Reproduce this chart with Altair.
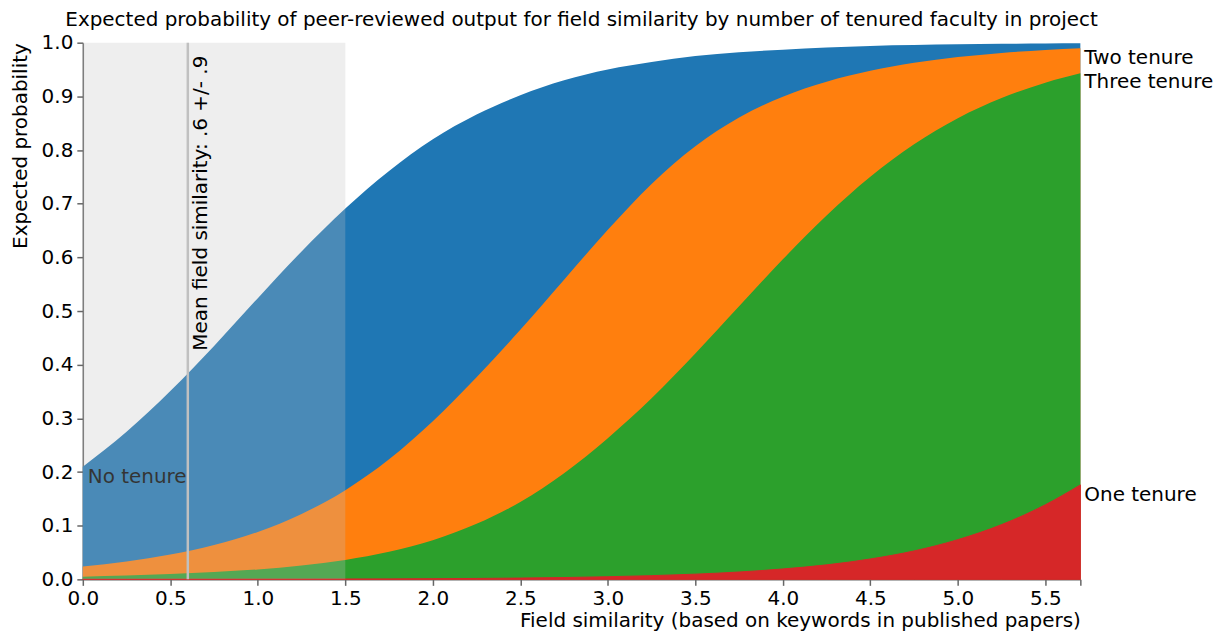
import altair as alt
import pandas as pd

# ---- data ----
x_vals = [0.0, 0.25, 0.5, 0.75, 1.0, 1.25, 1.5, 1.75, 2.0, 2.25, 2.5, 2.75,
          3.0, 3.25, 3.5, 3.75, 4.0, 4.25, 4.5, 4.75, 5.0, 5.25, 5.5, 5.7]
no_tenure = [0.210, 0.275, 0.351, 0.435, 0.524, 0.611, 0.691, 0.761, 0.820, 0.866, 0.902, 0.930,
             0.950, 0.964, 0.975, 0.982, 0.987, 0.991, 0.994, 0.9956, 0.9969, 0.9978, 0.9985, 0.9989]
two_tenure = [0.0240, 0.0332, 0.0461, 0.0638, 0.0884, 0.1219, 0.1662, 0.2236, 0.2946, 0.3764, 0.4651, 0.5585,
              0.6513, 0.7369, 0.8069, 0.8606, 0.8993, 0.9272, 0.9476, 0.9625, 0.9733, 0.9810, 0.9866, 0.9898]
three_tenure = [0.0050, 0.0071, 0.0099, 0.0136, 0.0185, 0.0260, 0.0363, 0.0514, 0.0731, 0.1034, 0.1443, 0.1978,
                0.2631, 0.3374, 0.4207, 0.5087, 0.5963, 0.6781, 0.7503, 0.8108, 0.8594, 0.8970, 0.9255, 0.9429]
one_tenure = [0.0001, 0.0001, 0.0002, 0.0002, 0.0003, 0.0004, 0.0006, 0.0008, 0.0012, 0.0017, 0.0024, 0.0034,
              0.0049, 0.0069, 0.0097, 0.0137, 0.0194, 0.027, 0.038, 0.053, 0.074, 0.102, 0.139, 0.176]

series_keys = ["none", "two", "three", "one"]
series_labels = ["No tenure", "Two tenure", "Three tenure", "One tenure"]
series_colors = ["#1f77b4", "#ff7f0e", "#2ca02c", "#d62728"]

mean_similarity = 0.6
sd_similarity = 0.9
x_ticks = [0.0, 0.5, 1.0, 1.5, 2.0, 2.5, 3.0, 3.5, 4.0, 4.5, 5.0, 5.5, 5.7]
y_ticks = [0.0, 0.1, 0.2, 0.3, 0.4, 0.5, 0.6, 0.7, 0.8, 0.9, 1.0]

title_text = ("Expected probability of peer-reviewed output for field similarity "
              "by number of tenured faculty in project")
x_title = "Field similarity (based on keywords in published papers)"
y_title = "Expected probability"
rule_label = "Mean field similarity: .6 +/- .9"

FONT = "DejaVu Sans"
FS = 20

df = pd.DataFrame({"x": x_vals, "none": no_tenure, "two": two_tenure,
                   "three": three_tenure, "one": one_tenure})

xscale = alt.Scale(domain=[x_vals[0], x_vals[-1]], nice=False, zero=False)
yscale = alt.Scale(domain=[0, 1], nice=False)

xaxis = alt.Axis(title=x_title, values=x_ticks,
                 labelExpr="datum.value > 5.6 ? '' : format(datum.value, '.1f')",
                 labelFlush=False, labelOverlap=False,
                 titleAnchor="end", titleY=47, titleBaseline="alphabetic",
                 tickSize=6, labelPadding=3, grid=False)
yaxis = alt.Axis(title=y_title, values=y_ticks, format=".1f",
                 labelFlush=False, labelOverlap=False,
                 titleAnchor="end", titleX=-72, titleY=0, titleAlign="right",
                 titleAngle=270, titleBaseline="top",
                 tickSize=6, labelPadding=4, grid=False)

base = alt.Chart(df)

areas = []
for key, col in zip(series_keys, series_colors):
    props = dict(color=col, opacity=1, interpolate="monotone")
    if key == "one":
        props.update(stroke=col, strokeWidth=1)
    areas.append(
        base.mark_area(**props).encode(
            x=alt.X("x:Q", scale=xscale, axis=xaxis),
            y=alt.Y(f"{key}:Q", scale=yscale, axis=yaxis),
        )
    )

start_df = pd.DataFrame({"x": [x_vals[0]], "y": [no_tenure[0]], "label": [series_labels[0]]})
start_label = alt.Chart(start_df).mark_text(
    align="left", baseline="top", dx=5, fontSize=FS, font=FONT, color="black"
).encode(
    x=alt.X("x:Q", scale=xscale, axis=xaxis),
    y=alt.Y("y:Q", scale=yscale, axis=yaxis),
    text="label:N",
)

band_df = pd.DataFrame({"lo": [max(0.0, mean_similarity - sd_similarity)],
                        "hi": [mean_similarity + sd_similarity],
                        "b": [0.0], "t": [1.0]})
band = alt.Chart(band_df).mark_rect(color="#bfbfbf", opacity=0.27).encode(
    x=alt.X("lo:Q", scale=xscale, axis=xaxis),
    x2="hi:Q",
    y=alt.Y("b:Q", scale=yscale, axis=yaxis),
    y2="t:Q",
)

rule_df = pd.DataFrame({"m": [mean_similarity], "t": [1.0], "label": [rule_label]})
rule = alt.Chart(rule_df).mark_rule(color="#c0c0c0", strokeWidth=2.5).encode(
    x=alt.X("m:Q", scale=xscale, axis=xaxis),
)
rule_text = alt.Chart(rule_df).mark_text(
    angle=270, align="right", baseline="top", dx=-13, dy=3,
    fontSize=FS, font=FONT, color="black"
).encode(
    x=alt.X("m:Q", scale=xscale, axis=xaxis),
    y=alt.Y("t:Q", scale=yscale, axis=yaxis),
    text="label:N",
)

end_values = [no_tenure[-1], two_tenure[-1], three_tenure[-1], one_tenure[-1]]
end_layers = []
for i in range(1, 4):
    edf = pd.DataFrame({"x": [x_vals[-1]], "y": [end_values[i]], "label": [series_labels[i]]})
    end_layers.append(
        alt.Chart(edf).mark_text(
            align="left", baseline="top", dx=4, dy=(-1 if series_labels[i] == "Three tenure" else 0),
            fontSize=FS, font=FONT, color="black"
        ).encode(
            x=alt.X("x:Q", scale=xscale, axis=xaxis),
            y=alt.Y("y:Q", scale=yscale, axis=yaxis),
            text="label:N",
        )
    )

chart = alt.layer(*areas, start_label, band, rule, rule_text, *end_layers).properties(
    width=1000, height=538,
    title=alt.TitleParams(title_text, font=FONT, fontSize=FS, fontWeight="normal",
                          color="black", anchor="middle", offset=3),
    autosize=alt.AutoSizeParams(type="none"),
    padding={"left": 75, "top": 34, "right": 140, "bottom": 55},
).configure_view(stroke=None).configure_axis(
    labelFont=FONT, titleFont=FONT, labelFontSize=FS, titleFontSize=FS,
    labelColor="black", titleColor="black", titleFontWeight="normal",
    domainColor="#666666", tickColor="#666666", domainWidth=1.5, tickWidth=1.5,
)

chart.save("out.html", embed_options={"renderer": "svg", "actions": False})
